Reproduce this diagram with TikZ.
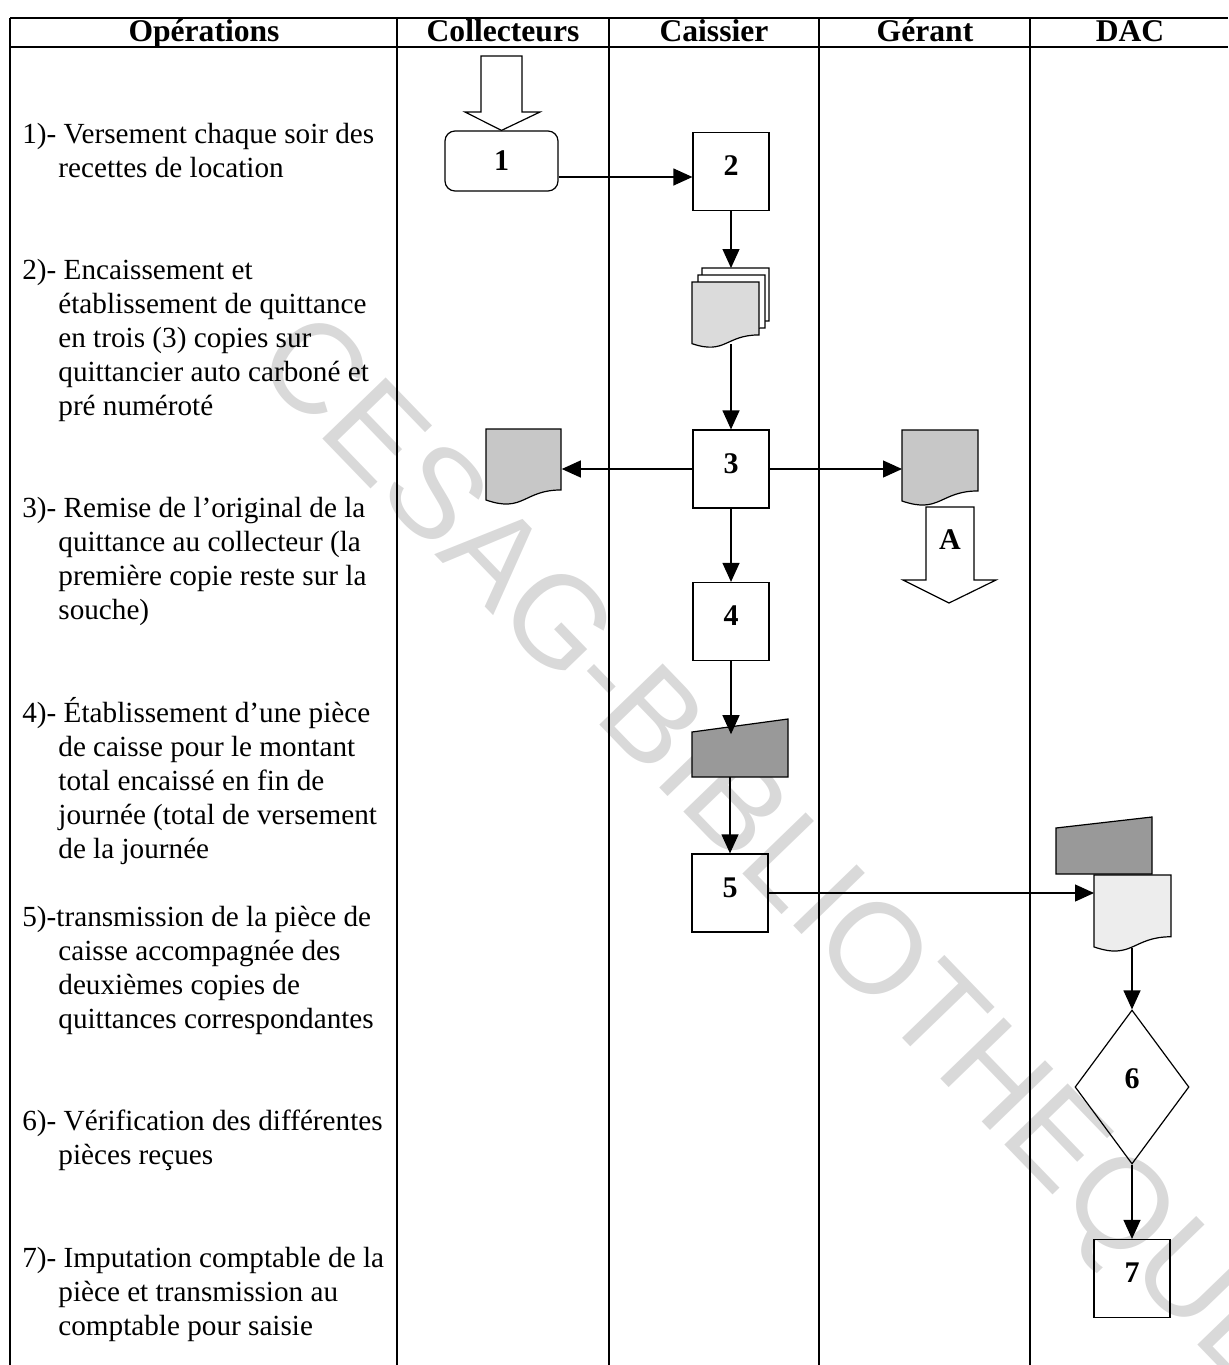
\documentclass[tikz,border=0pt]{standalone}
\usepackage{fontspec}
\setmainfont{Liberation Serif}
\newfontfamily\markfont{Liberation Sans}
\usetikzlibrary{arrows.meta,shapes.geometric}

% hanging indent of the continuation lines in the operations column
\newcommand\ind{\hspace*{18pt}}

% document symbol (sheet with a wavy lower edge) plus a named node covering it
% #1 name, #2 x, #3 y of the top-left corner, #4 width, #5 height, #6 fill
\newcommand\docsheet[6]{%
  \filldraw[docline,fill=#6] (#2,#3) -- (#2+#4,#3) -- (#2+#4,#3+0.802*#5)
    .. controls (#2+0.5*#4,#3+0.802*#5) and (#2+0.5*#4,#3+1.1075*#5) .. (#2,#3+0.934*#5) -- cycle;
  \node[inner sep=0pt,minimum width=#4*0.5pt,minimum height=0.933*#5*0.5pt,anchor=north west] (#1) at (#2,#3) {};}

\begin{document}
\begin{tikzpicture}[x=0.5pt,y=-0.5pt,
  rule/.style={line width=0.7pt},
  docline/.style={line width=0.6pt},
  shapeline/.style={line width=0.6pt},
  flow/.style={line width=0.6pt,-{Triangle[length=9.5pt,width=8.5pt]}},
  proc/.style={draw,line width=0.6pt,minimum width=38pt,minimum height=39pt,inner sep=0pt,
    font=\fontsize{15}{18}\selectfont\bfseries,text height=10pt,text depth=6pt},
  lbl/.style={inner sep=0pt,font=\fontsize{15}{18}\selectfont\bfseries},
  hdr/.style={anchor=base,inner sep=0pt,font=\fontsize{15.8}{19}\selectfont\bfseries},
  optext/.style={anchor=base west,inner sep=0pt,font=\fontsize{14.6}{17.03}\selectfont},
  watermark/.style={rotate=-46,text=black!15,inner sep=0pt,font=\markfont\fontsize{64}{64}\selectfont},
  manual/.style={shapeline,fill=black!40}]

\useasboundingbox (0,0) rectangle (1228,1365);

% library stamp across the page
\node[watermark] (wm) at (774,859) {CESAG-BIBLIOTHEQUE};

% table rules
\draw[rule] (10,18) -- (1228,18);
\draw[rule] (10,47) -- (1228,47);
\foreach \x in {10,397,609,819,1030} \draw[rule] (\x,18) -- (\x,1365);

% column headings
\node[hdr] (hOp)  at (204,41)  {Opérations};
\node[hdr] (hCol) at (503,41)  {Collecteurs};
\node[hdr] (hCai) at (714,41)  {Caissier};
\node[hdr] (hGer) at (925,41)  {Gérant};
\node[hdr] (hDac) at (1130,41) {DAC};

% operations column
\node[optext] (op1) at (22,143) {\begin{tabular}[t]{@{}l@{}}
1)- Versement chaque soir des\\
\ind recettes de location\end{tabular}};
\node[optext] (op2) at (22,279.2) {\begin{tabular}[t]{@{}l@{}}
2)- Encaissement et\\
\ind établissement de quittance\\
\ind en trois (3) copies sur\\
\ind quittancier auto carboné et\\
\ind pré numéroté\end{tabular}};
\node[optext] (op3) at (22,517.7) {\begin{tabular}[t]{@{}l@{}}
3)- Remise de l’original de la\\
\ind quittance au collecteur (la\\
\ind première copie reste sur la\\
\ind souche)\end{tabular}};
\node[optext] (op4) at (22,722) {\begin{tabular}[t]{@{}l@{}}
4)- Établissement d’une pièce\\
\ind de caisse pour le montant\\
\ind total encaissé en fin de\\
\ind journée (total de versement\\
\ind de la journée\end{tabular}};
\node[optext] (op5) at (22,926.4) {\begin{tabular}[t]{@{}l@{}}
5)-transmission de la pièce de\\
\ind caisse accompagnée des\\
\ind deuxièmes copies de\\
\ind quittances correspondantes\end{tabular}};
\node[optext] (op6) at (22,1130.7) {\begin{tabular}[t]{@{}l@{}}
6)- Vérification des différentes\\
\ind pièces reçues\end{tabular}};
\node[optext] (op7) at (22,1267) {\begin{tabular}[t]{@{}l@{}}
7)- Imputation comptable de la\\
\ind pièce et transmission au\\
\ind comptable pour saisie\end{tabular}};

% step 1: collector's deposit
\node[draw,rounded corners=5pt,line width=0.6pt,minimum width=56.5pt,minimum height=30pt,inner sep=0pt,
  font=\fontsize{15}{18}\selectfont\bfseries,text height=10pt,text depth=1pt] (b1) at (501.5,161) {1};
\draw[shapeline,fill=white] (481,56) -- (522,56) -- (522,112) -- (540,112) -- (b1.north)
  -- (465,112) -- (481,112) -- cycle;

% step 2: cashier receipt
\node[proc] (b2) at (731,171.5) {2};
\path ([yshift=-8pt]b1.east) coordinate (a12);
\draw[flow] (a12) -- (a12 -| b2.west);

% receipt book in three copies
\docsheet{sheetback}{702}{268}{67}{66}{white}
\docsheet{sheetmid}{698}{275}{67}{66}{white}
\docsheet{sheetfront}{692}{282}{67}{66}{black!14}
\node[inner sep=0pt,minimum width=38.5pt,minimum height=37.8pt,anchor=north west] (stack) at (692,268) {};
\draw[flow] (b2.south) -- (b2.south |- stack.north);

% step 3: copies handed out
\node[proc] (b3) at (731,469) {3};
\draw[flow] (b3.north |- stack.south) -- (b3.north);

\draw[shapeline,fill=white] (926,507) -- (974,507) -- (974,580) -- (996,580) -- (949,603)
  -- (903,580) -- (926,580) -- cycle;
\node[lbl] (lblA) at (950,540) {A};

\docsheet{docleft}{486}{429}{75}{76}{black!22}
\docsheet{docright}{902}{430}{76}{76}{black!22}
\draw[flow] (b3.west) -- (b3.west -| docleft.east);
\draw[flow] (b3.east) -- (b3.east -| docright.west);

% step 4: cash voucher
\node[proc] (b4) at (731,621.5) {4};
\draw[flow] (b3.south) -- (b4.north);
\filldraw[manual] (692,732) -- (788,719) -- (788,777) -- (692,777) -- cycle;
\node[inner sep=0pt,minimum width=48pt,minimum height=21pt,anchor=south west] (m4) at (692,777) {};
\draw[flow] (b4.south) -- (b4.south |- m4.north);

% step 5: transmission to the DAC
\node[proc] (b5) at (730,893) {5};
\draw[flow] (b5.north |- m4.south) -- (b5.north);

\filldraw[manual] (1056,828) -- (1152,817) -- (1152,874) -- (1056,874) -- cycle;
\node[inner sep=0pt,minimum width=48pt,minimum height=23pt,anchor=south west] (mdac) at (1056,874) {};
\docsheet{docdac}{1094}{875}{77}{77}{black!7}
\draw[flow] (b5.east) -- (b5.east -| docdac.west);

% steps 6 and 7: checking and posting
\node[draw,diamond,line width=0.6pt,minimum width=57pt,minimum height=77pt,inner sep=0pt,
  font=\fontsize{15}{18}\selectfont\bfseries,text height=10pt,text depth=9pt] (d6) at (1132,1087) {6};
\draw[flow] (d6.north |- docdac.south) -- (d6.north);
\node[proc] (b7) at (1132,1278.5) {7};
\draw[flow] (d6.south) -- (b7.north);

\end{tikzpicture}
\end{document}
